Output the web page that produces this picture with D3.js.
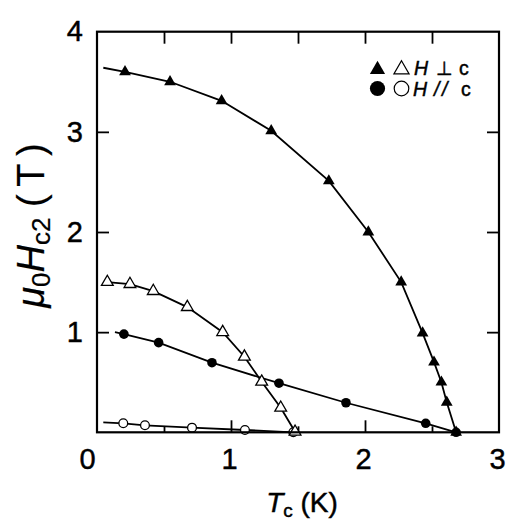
<!DOCTYPE html>
<html>
<head>
<meta charset="utf-8">
<script src="https://cdn.jsdelivr.net/npm/d3@7"></script>
<style>
  body { margin: 0; background: #fff; }
  svg { display: block; }
  text { font-family: "Liberation Sans", Arial, Helvetica, sans-serif; fill: #000; stroke: #000; stroke-width: 0.45px; }
</style>
</head>
<body>
<div id="chart"></div>
<script>
// ---------- data (T in K, mu0Hc2 in T) ----------
// H perpendicular c, filled triangles
const perpFilled = [[0.209, 3.60], [0.545, 3.50], [0.93, 3.31], [1.30, 3.01], [1.73, 2.51],
  [2.025, 2.00], [2.27, 1.50], [2.43, 0.99], [2.515, 0.70], [2.57, 0.50], [2.61, 0.30], [2.68, 0.00]];
const perpFilledStart = [0.047, 3.64];   // where the drawn curve begins
// H perpendicular c, open triangles
const perpOpen = [[0.077, 1.50], [0.246, 1.48], [0.42, 1.41], [0.674, 1.25], [0.938, 1.00],
  [1.10, 0.755], [1.229, 0.505], [1.371, 0.245], [1.478, 0.005]];
// H // c, filled circles
const parFilled = [[0.201, 0.98], [0.46, 0.895], [0.858, 0.695], [1.358, 0.49], [1.858, 0.295],
  [2.453, 0.09], [2.68, 0.00]];
const parFilledStart = [0.134, 1.00];
// H // c, open circles
const parOpen = [[0.196, 0.09], [0.358, 0.07], [0.709, 0.046], [1.104, 0.023], [1.465, 0.00]];
const parOpenStart = [0.047, 0.10];

const xMajor = [0, 1, 2, 3];
const xMinor = [0.5, 1.5, 2.5];
const yMajor = [1, 2, 3, 4];

// ---------- layout ----------
const W = 510, H = 521;
const m = { top: 31.7, right: 11, bottom: 88.7, left: 97 };
const w = W - m.left - m.right, h = H - m.top - m.bottom;

const svg = d3.select("#chart").append("svg").attr("width", W).attr("height", H);
const g = svg.append("g").attr("transform", `translate(${m.left},${m.top})`);

const x = d3.scaleLinear().domain([0, 3]).range([0, w]);
const y = d3.scaleLinear().domain([0, 4]).range([h, 0]);

function tickAxis(axis, vals, size, tr) {
  const a = g.append("g").attr("transform", tr || null)
    .call(axis.tickValues(vals).tickSize(size).tickFormat(""));
  a.select(".domain").remove();
  a.selectAll("line").attr("stroke", "#000").attr("stroke-width", 1.8);
  return a;
}

// inward ticks
tickAxis(d3.axisBottom(x), [1, 2], -12, `translate(0,${h})`);
tickAxis(d3.axisBottom(x), xMinor, -6, `translate(0,${h})`);
tickAxis(d3.axisTop(x), [0.5, 1, 1.5, 2, 2.5], -12);
tickAxis(d3.axisLeft(y), [1, 2, 3], -12);
tickAxis(d3.axisRight(y), [1, 2, 3], -12, `translate(${w},0)`);

// tick labels
const xl = g.append("g").attr("transform", `translate(0,${h})`)
  .call(d3.axisBottom(x).tickValues(xMajor).tickSize(0).tickPadding(16.5).tickFormat(d3.format("d")));
xl.select(".domain").remove();
xl.selectAll("text").attr("font-size", 29).attr("font-family", null)
  .attr("dx", d => d === 0 ? -10 : -2);

const yl = g.append("g")
  .call(d3.axisLeft(y).tickValues(yMajor).tickSize(0).tickPadding(14).tickFormat(d3.format("d")));
yl.select(".domain").remove();
yl.selectAll("text").attr("font-size", 29).attr("font-family", null);

// ---------- curves ----------
const line = d3.line().x(d => x(d[0])).y(d => y(d[1]));
const curves = [
  [perpFilledStart].concat(perpFilled),
  perpOpen,
  [parFilledStart].concat(parFilled),
  [parOpenStart].concat(parOpen)
];
g.append("g").selectAll("path").data(curves).join("path")
  .attr("d", line).attr("fill", "none").attr("stroke", "#000").attr("stroke-width", 1.8);

// ---------- markers ----------
const tri = d3.symbol().type(d3.symbolTriangle).size(60);

g.append("g").selectAll("circle").data(parOpen).join("circle")
  .attr("cx", d => x(d[0])).attr("cy", d => y(d[1])).attr("r", 4.4)
  .attr("fill", "#fff").attr("stroke", "#000").attr("stroke-width", 1.3);

g.append("g").selectAll("path").data(perpOpen).join("path")
  .attr("d", tri).attr("transform", d => `translate(${x(d[0])},${y(d[1])})`)
  .attr("fill", "#fff").attr("stroke", "#000").attr("stroke-width", 1.3);

g.append("g").selectAll("circle").data(parFilled).join("circle")
  .attr("cx", d => x(d[0])).attr("cy", d => y(d[1])).attr("r", 4.8).attr("fill", "#000");

g.append("g").selectAll("path").data(perpFilled).join("path")
  .attr("d", tri).attr("transform", d => `translate(${x(d[0])},${y(d[1])})`)
  .attr("fill", "#000");

// frame
g.append("rect").attr("width", w).attr("height", h)
  .attr("fill", "none").attr("stroke", "#000").attr("stroke-width", 2.2);

// ---------- legend ----------
const lg = svg.append("g");
const bigTri = d3.symbol().type(d3.symbolTriangle).size(100);
lg.append("path").attr("d", bigTri).attr("transform", "translate(377.5,69.5)").attr("fill", "#000");
lg.append("path").attr("d", bigTri).attr("transform", "translate(401.5,69.5)")
  .attr("fill", "#fff").attr("stroke", "#000").attr("stroke-width", 1.2);
lg.append("circle").attr("cx", 377.5).attr("cy", 88.5).attr("r", 7.6).attr("fill", "#000");
lg.append("circle").attr("cx", 401.5).attr("cy", 88.5).attr("r", 7.3)
  .attr("fill", "#fff").attr("stroke", "#000").attr("stroke-width", 1.2);

lg.append("text").attr("x", 414).attr("y", 74.7).attr("font-size", 19.5).attr("font-style", "italic").text("H");
lg.append("text").attr("x", 436).attr("y", 74.7).attr("font-size", 19)
  .style("font-family", "'DejaVu Sans', sans-serif").text("⊥");
lg.append("text").attr("x", 459).attr("y", 74.7).attr("font-size", 19.5).text("c");
lg.append("text").attr("x", 413).attr("y", 96.3).attr("font-size", 19.5).attr("font-style", "italic").text("H");
lg.append("text").attr("x", 434).attr("y", 96.3).attr("font-size", 19.5).attr("font-style", "italic")
  .attr("letter-spacing", 2.5).text("//");
lg.append("text").attr("x", 461).attr("y", 96.3).attr("font-size", 19.5).text("c");

// ---------- axis titles ----------
const xt = svg.append("text").attr("x", 302).attr("y", 511.7)
  .attr("text-anchor", "middle").attr("font-size", 28);
xt.append("tspan").attr("font-style", "italic").text("T");
xt.append("tspan").attr("font-size", 19).attr("dy", 5).text("c");
xt.append("tspan").attr("dy", -5).text(" (K)");

const yt = svg.append("text").attr("transform", "translate(44,225.5) rotate(-90)")
  .attr("text-anchor", "middle").attr("font-size", 38).style("stroke-width", "0.2px");
yt.append("tspan").attr("font-style", "italic").text("μ");
yt.append("tspan").attr("font-size", 26).attr("dy", 6).text("0");
yt.append("tspan").attr("font-style", "italic").attr("dy", -6).text("H");
yt.append("tspan").attr("font-size", 26).attr("dy", 6).text("c2");
yt.append("tspan").attr("dy", -6).text(" (\u2009T\u2009)");
</script>
</body>
</html>
